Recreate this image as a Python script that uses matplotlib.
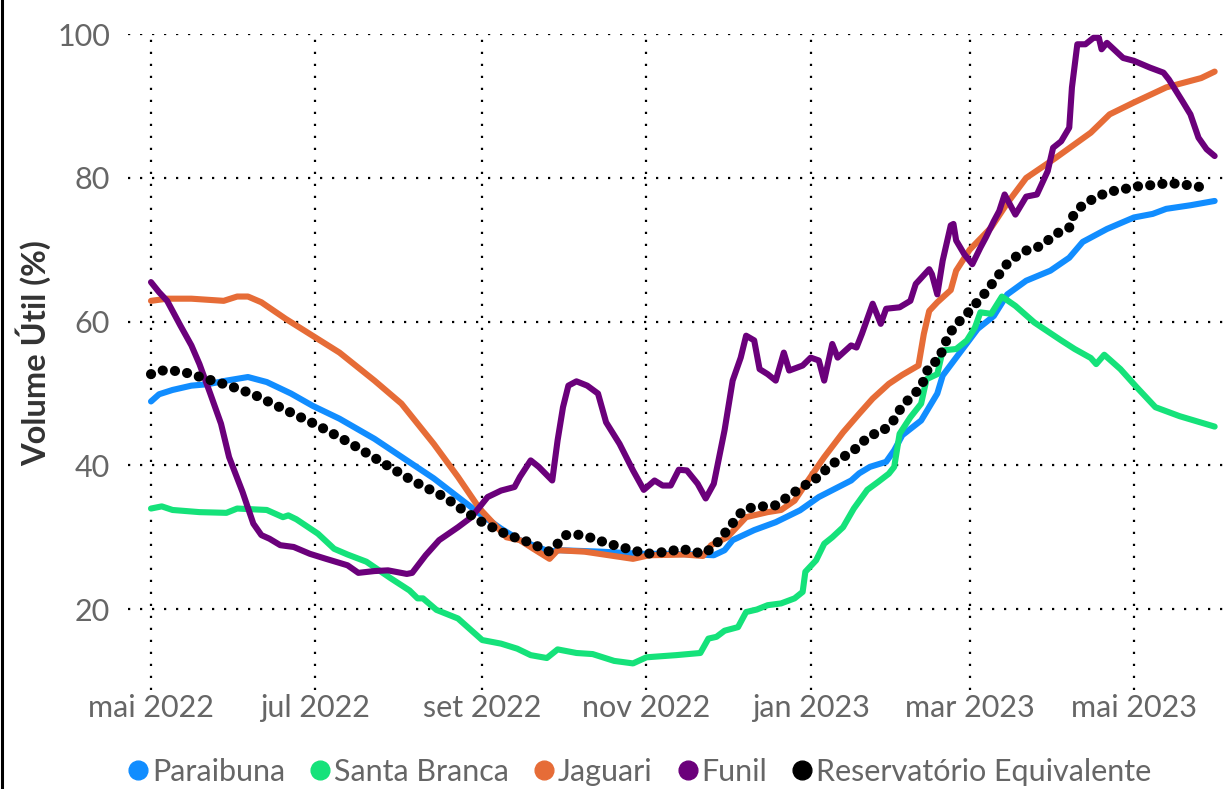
import matplotlib
matplotlib.use("Agg")
import matplotlib.pyplot as plt
from matplotlib.lines import Line2D
import pandas as pd

# ---------------- data ----------------
series_names = ["Paraibuna", "Santa Branca", "Jaguari", "Funil", "Reservatório Equivalente"]

paraibuna_dates = ["2022-05-01", "2022-05-04", "2022-05-09", "2022-05-16", "2022-05-22", "2022-05-29",
                   "2022-06-06", "2022-06-13", "2022-06-22", "2022-06-30", "2022-07-10", "2022-07-23",
                   "2022-08-04", "2022-08-14", "2022-08-23", "2022-08-31", "2022-09-08", "2022-09-15",
                   "2022-09-26", "2022-09-30", "2022-10-15", "2022-10-30", "2022-11-09", "2022-11-21",
                   "2022-11-26", "2022-11-30", "2022-12-03", "2022-12-11", "2022-12-19", "2022-12-28",
                   "2023-01-04", "2023-01-16", "2023-01-19", "2023-01-23", "2023-01-29", "2023-02-01",
                   "2023-02-04", "2023-02-11", "2023-02-17", "2023-02-19", "2023-02-25", "2023-03-04",
                   "2023-03-10", "2023-03-15", "2023-03-22", "2023-03-31", "2023-04-07", "2023-04-12",
                   "2023-04-21", "2023-05-01", "2023-05-08", "2023-05-13", "2023-05-22", "2023-05-31"]
paraibuna_vals = [48.9, 49.9, 50.5, 51.1, 51.3, 51.8,
                  52.3, 51.6, 50.0, 48.3, 46.5, 43.7,
                  40.7, 38.2, 35.6, 33.3, 31.2, 29.6,
                  28.0, 28.2, 28.0, 27.7, 27.7, 27.6,
                  27.5, 28.2, 29.6, 31.0, 32.1, 33.75,
                  35.6, 37.9, 38.9, 39.8, 40.5, 42.1,
                  44.2, 46.25, 50.0, 52.5, 55.5, 59.0,
                  60.8, 63.8, 65.7, 67.1, 68.9, 71.1,
                  72.9, 74.5, 75.0, 75.7, 76.2, 76.8]

santa_branca_dates = ["2022-05-01", "2022-05-05", "2022-05-09", "2022-05-19", "2022-05-29", "2022-06-02",
                      "2022-06-13", "2022-06-19", "2022-06-21", "2022-06-24", "2022-07-02", "2022-07-08",
                      "2022-07-13", "2022-07-20", "2022-07-29", "2022-08-05", "2022-08-08", "2022-08-10",
                      "2022-08-15", "2022-08-23", "2022-09-01", "2022-09-08", "2022-09-14", "2022-09-19",
                      "2022-09-25", "2022-09-29", "2022-10-06", "2022-10-12", "2022-10-20", "2022-10-27",
                      "2022-11-01", "2022-11-12", "2022-11-21", "2022-11-24", "2022-11-27", "2022-11-30",
                      "2022-12-05", "2022-12-08", "2022-12-12", "2022-12-16", "2022-12-21", "2022-12-26",
                      "2022-12-29", "2022-12-30", "2023-01-03", "2023-01-06", "2023-01-09", "2023-01-13",
                      "2023-01-17", "2023-01-22", "2023-01-26", "2023-01-30", "2023-02-01", "2023-02-03",
                      "2023-02-07", "2023-02-11", "2023-02-13", "2023-02-17", "2023-02-19", "2023-02-24",
                      "2023-02-28", "2023-03-03", "2023-03-05", "2023-03-09", "2023-03-13", "2023-03-18",
                      "2023-03-25", "2023-03-30", "2023-04-04", "2023-04-09", "2023-04-15", "2023-04-17",
                      "2023-04-20", "2023-04-26", "2023-05-02", "2023-05-09", "2023-05-18", "2023-05-31"]
santa_branca_vals = [34.0, 34.3, 33.8, 33.5, 33.4, 34.0,
                     33.8, 32.8, 33.05, 32.5, 30.5, 28.4,
                     27.6, 26.6, 24.3, 22.6, 21.5, 21.5,
                     19.9, 18.7, 15.7, 15.2, 14.5, 13.6,
                     13.2, 14.4, 13.9, 13.75, 12.8, 12.45,
                     13.3, 13.6, 13.9, 15.9, 16.15, 17.0,
                     17.5, 19.6, 19.95, 20.55, 20.8, 21.5,
                     22.4, 25.2, 26.8, 29.1, 30.0, 31.4,
                     34.0, 36.6, 37.7, 38.85, 39.8, 44.4,
                     46.7, 48.6, 52.0, 52.7, 56.0, 56.2,
                     57.4, 59.2, 61.3, 61.1, 63.5, 62.2,
                     59.9, 58.65, 57.4, 56.2, 54.95, 54.1,
                     55.4, 53.4, 50.9, 48.1, 46.85, 45.4]

jaguari_dates = ["2022-05-01", "2022-05-07", "2022-05-16", "2022-05-28", "2022-06-02", "2022-06-06",
                 "2022-06-11", "2022-06-20", "2022-06-30", "2022-07-10", "2022-07-23", "2022-08-02",
                 "2022-08-08", "2022-08-14", "2022-08-23", "2022-08-31", "2022-09-10", "2022-09-15",
                 "2022-09-20", "2022-09-26", "2022-09-29", "2022-10-09", "2022-10-18", "2022-10-27",
                 "2022-11-02", "2022-11-15", "2022-11-22", "2022-11-25", "2022-12-01", "2022-12-08",
                 "2022-12-16", "2022-12-21", "2022-12-26", "2022-12-31", "2023-01-06", "2023-01-13",
                 "2023-01-19", "2023-01-24", "2023-01-30", "2023-02-04", "2023-02-10", "2023-02-12",
                 "2023-02-14", "2023-02-17", "2023-02-22", "2023-02-24", "2023-03-01", "2023-03-09",
                 "2023-03-15", "2023-03-22", "2023-04-02", "2023-04-15", "2023-04-22", "2023-05-01",
                 "2023-05-13", "2023-05-26", "2023-05-31"]
jaguari_vals = [62.9, 63.2, 63.2, 62.9, 63.5, 63.5,
                62.7, 60.4, 58.05, 55.7, 51.8, 48.6,
                45.8, 43.0, 38.4, 34.0, 30.0, 29.6,
                28.4, 27.0, 28.2, 28.0, 27.5, 27.0,
                27.5, 27.6, 27.4, 28.9, 30.0, 32.8,
                33.5, 33.8, 35.1, 37.9, 41.15, 44.6,
                47.2, 49.3, 51.35, 52.6, 53.9, 58.3,
                61.5, 62.7, 64.4, 67.1, 70.0, 73.1,
                76.5, 80.0, 82.8, 86.3, 88.85, 90.5,
                92.6, 93.9, 94.8]

funil_dates = ["2022-05-01", "2022-05-04", "2022-05-07", "2022-05-12", "2022-05-16", "2022-05-19",
               "2022-05-23", "2022-05-27", "2022-05-30", "2022-06-04", "2022-06-08", "2022-06-11",
               "2022-06-14", "2022-06-18", "2022-06-23", "2022-06-29", "2022-07-05", "2022-07-13",
               "2022-07-17", "2022-07-23", "2022-07-28", "2022-08-04", "2022-08-06", "2022-08-11",
               "2022-08-16", "2022-08-23", "2022-08-28", "2022-09-03", "2022-09-08", "2022-09-13",
               "2022-09-15", "2022-09-19", "2022-09-22", "2022-09-27", "2022-09-29", "2022-10-01",
               "2022-10-03", "2022-10-06", "2022-10-10", "2022-10-14", "2022-10-17", "2022-10-22",
               "2022-10-27", "2022-10-31", "2022-11-04", "2022-11-07", "2022-11-10", "2022-11-13",
               "2022-11-16", "2022-11-20", "2022-11-23", "2022-11-26", "2022-11-30", "2022-12-03",
               "2022-12-06", "2022-12-08", "2022-12-11", "2022-12-13", "2022-12-16", "2022-12-19",
               "2022-12-22", "2022-12-24", "2022-12-29", "2023-01-01", "2023-01-04", "2023-01-06",
               "2023-01-09", "2023-01-11", "2023-01-16", "2023-01-18", "2023-01-20", "2023-01-24",
               "2023-01-27", "2023-01-29", "2023-02-03", "2023-02-07", "2023-02-09", "2023-02-14",
               "2023-02-15", "2023-02-17", "2023-02-19", "2023-02-22", "2023-02-23", "2023-02-24",
               "2023-02-27", "2023-03-02", "2023-03-05", "2023-03-07", "2023-03-10", "2023-03-12",
               "2023-03-14", "2023-03-18", "2023-03-22", "2023-03-26", "2023-03-30", "2023-04-01",
               "2023-04-04", "2023-04-07", "2023-04-08", "2023-04-10", "2023-04-13", "2023-04-16",
               "2023-04-18", "2023-04-19", "2023-04-21", "2023-04-27", "2023-05-01", "2023-05-07",
               "2023-05-12", "2023-05-14", "2023-05-19", "2023-05-22", "2023-05-25", "2023-05-28",
               "2023-05-31"]
funil_vals = [65.5, 64.1, 62.9, 59.4, 56.7, 54.1,
              50.0, 45.8, 41.15, 36.3, 31.9, 30.3,
              29.8, 28.9, 28.65, 27.7, 27.0, 26.1,
              25.05, 25.3, 25.4, 24.9, 25.05, 27.5,
              29.6, 31.4, 32.8, 35.6, 36.5, 37.0,
              38.4, 40.7, 39.8, 37.9, 43.5, 48.1,
              51.1, 51.7, 51.1, 50.0, 46.0, 43.0,
              39.3, 36.6, 37.9, 37.2, 37.2, 39.4,
              39.3, 37.45, 35.4, 37.45, 44.9, 51.8,
              55.0, 58.05, 57.4, 53.4, 52.7, 51.8,
              55.7, 53.2, 53.9, 55.0, 54.6, 51.8,
              56.9, 55.0, 56.7, 56.4, 58.3, 62.5,
              59.7, 61.8, 62.0, 62.9, 65.25, 67.3,
              66.6, 63.8, 68.5, 73.4, 73.6, 71.3,
              69.4, 68.0, 70.3, 71.7, 74.0, 75.4,
              77.7, 74.9, 77.4, 77.7, 80.95, 84.2,
              85.1, 87.0, 92.6, 98.6, 98.6, 99.5,
              99.5, 97.9, 98.8, 96.7, 96.3, 95.35,
              94.65, 93.7, 90.7, 88.85, 85.6, 84.0,
              83.05]

equivalente_dates = ["2022-05-01", "2022-05-05", "2022-05-09", "2022-05-14", "2022-05-22", "2022-05-30",
                     "2022-06-08", "2022-06-20", "2022-07-02", "2022-07-14", "2022-07-25", "2022-08-06",
                     "2022-08-18", "2022-08-25", "2022-09-01", "2022-09-10", "2022-09-18", "2022-09-26",
                     "2022-09-29", "2022-10-02", "2022-10-06", "2022-10-10", "2022-10-18", "2022-10-27",
                     "2022-11-01", "2022-11-09", "2022-11-14", "2022-11-22", "2022-11-26", "2022-12-01",
                     "2022-12-07", "2022-12-11", "2022-12-19", "2022-12-23", "2022-12-28", "2023-01-03",
                     "2023-01-09", "2023-01-17", "2023-01-23", "2023-01-27", "2023-01-31", "2023-02-04",
                     "2023-02-11", "2023-02-14", "2023-02-18", "2023-02-19", "2023-02-23", "2023-03-01",
                     "2023-03-07", "2023-03-12", "2023-03-15", "2023-03-18", "2023-03-22", "2023-03-26",
                     "2023-03-30", "2023-04-03", "2023-04-07", "2023-04-08", "2023-04-11", "2023-04-14",
                     "2023-04-18", "2023-04-22", "2023-04-27", "2023-05-01", "2023-05-05", "2023-05-10",
                     "2023-05-14", "2023-05-19", "2023-05-23", "2023-05-28"]
equivalente_vals = [52.7, 53.2, 53.2, 52.9, 52.0, 51.1,
                    49.9, 47.7, 45.55, 43.1, 40.6, 37.9,
                    35.6, 33.75, 32.1, 30.4, 29.35, 28.0,
                    29.1, 30.3, 30.4, 30.1, 29.1, 28.2,
                    27.7, 28.0, 28.4, 27.7, 28.65, 31.0,
                    33.85, 34.2, 34.45, 35.5, 36.8, 38.2,
                    40.2, 42.1, 44.2, 44.6, 45.8, 48.3,
                    50.9, 53.9, 54.8, 56.4, 59.2, 61.5,
                    64.1, 66.6, 68.1, 69.0, 69.9, 70.3,
                    71.3, 72.4, 73.1, 74.5, 75.9, 76.7,
                    77.5, 78.1, 78.4, 78.8, 78.9, 79.1,
                    79.3, 79.1, 78.9, 78.6]

xtick_dates = ["2022-05-01", "2022-07-01", "2022-09-01", "2022-11-01",
               "2023-01-01", "2023-03-01", "2023-05-01"]
xtick_labels = ["mai 2022", "jul 2022", "set 2022", "nov 2022",
                "jan 2023", "mar 2023", "mai 2023"]
ytick_values = [20, 40, 60, 80, 100]
y_label = "Volume Útil (%)"

colors = ["#118DFF", "#15E27A", "#E66C37", "#6B007B", "#000000"]

# ---------------- figure ----------------
plt.rcParams["font.family"] = ["Lato", "DejaVu Sans"]

fig = plt.figure(figsize=(12.27, 7.89), dpi=100)
ax = fig.add_axes([128 / 1227, 1 - 690 / 789, (1227 - 128) / 1227, (690 - 33.5) / 789])

all_series = [
    (paraibuna_dates, paraibuna_vals),
    (santa_branca_dates, santa_branca_vals),
    (jaguari_dates, jaguari_vals),
    (funil_dates, funil_vals),
]
for (d, v), c in zip(all_series, colors[:4]):
    ax.plot(pd.to_datetime(d), v, color=c, lw=4.4, solid_capstyle="round",
            solid_joinstyle="round", zorder=3)

ax.plot(pd.to_datetime(equivalente_dates), equivalente_vals, color=colors[4], lw=7.3,
        linestyle=(0, (0.01, 1.2)), dash_capstyle="round", zorder=4)

ax.set_xlim(pd.Timestamp("2022-04-22 11:00"), pd.Timestamp("2023-06-04 14:00"))
ax.set_ylim(8.75, 100.1)

ax.set_xticks(pd.to_datetime(xtick_dates))
ax.set_xticklabels(xtick_labels)
ax.set_yticks(ytick_values)
ax.set_yticklabels([str(v) for v in ytick_values])

ax.tick_params(axis="both", length=0, labelsize=22, labelcolor="#666666")
ax.tick_params(axis="x", pad=3)
ax.tick_params(axis="y", pad=13)

for s in ax.spines.values():
    s.set_visible(False)

ax.grid(True, color="black", lw=1.6, linestyle=(0, (1, 4.4)), dash_capstyle="butt")
ax.set_axisbelow(True)

fig.text(33 / 1227, 1 - 353 / 789, y_label, rotation=90, ha="center", va="center",
         fontsize=23.5, fontweight="bold", color="#333333")

handles = [Line2D([], [], marker="o", linestyle="", color=c, markersize=13.5) for c in colors]
leg = fig.legend(handles, series_names, loc="center", bbox_to_anchor=(0.52, 1 - 772 / 789),
                 ncol=5, frameon=False, fontsize=22, handletextpad=0.0,
                 columnspacing=0.7, handlelength=0.9, borderaxespad=0)
for t in leg.get_texts():
    t.set_color("#666666")

fig.add_artist(Line2D([2 / 1227, 2 / 1227], [0, 1], transform=fig.transFigure,
                      color="black", lw=2.2))

fig.savefig("out.png", dpi=100)
